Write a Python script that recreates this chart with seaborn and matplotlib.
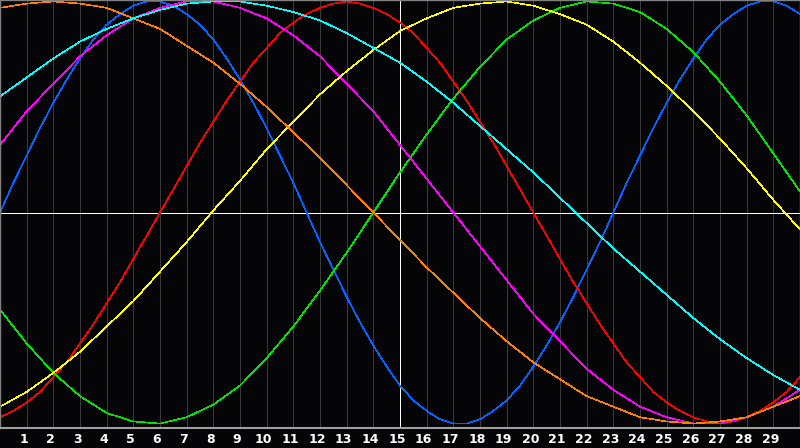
import pandas as pd
import matplotlib.pyplot as plt
import matplotlib.transforms as mtransforms
import seaborn as sns

# Days shown on the chart, one value per day (half days for the fast cycles)
days = list(range(31))
half_days = [i / 2 for i in range(61)]

physical = [0.00, 0.14, 0.27, 0.40, 0.52, 0.63, 0.73, 0.82, 0.89, 0.94, 0.98, 1.00,
            1.00, 0.98, 0.94, 0.89, 0.82, 0.73, 0.63, 0.52, 0.40, 0.27, 0.14, 0.00,
            -0.14, -0.27, -0.40, -0.52, -0.63, -0.73, -0.82, -0.89, -0.94, -0.98, -1.00,
            -1.00, -0.98, -0.94, -0.89, -0.82, -0.73, -0.63, -0.52, -0.40, -0.27, -0.14,
            0.00, 0.14, 0.27, 0.40, 0.52, 0.63, 0.73, 0.82, 0.89, 0.94, 0.98, 1.00,
            1.00, 0.98, 0.94]
emotional = [-0.97, -0.94, -0.90, -0.85, -0.78, -0.71, -0.62, -0.53, -0.43, -0.33, -0.22, -0.11,
             0.00, 0.11, 0.22, 0.33, 0.43, 0.53, 0.62, 0.71, 0.78, 0.85, 0.90, 0.94, 0.97, 0.99,
             1.00, 0.99, 0.97, 0.94, 0.90, 0.85, 0.78, 0.71, 0.62, 0.53, 0.43, 0.33, 0.22, 0.11,
             0.00, -0.11, -0.22, -0.33, -0.43, -0.53, -0.62, -0.71, -0.78, -0.85, -0.90, -0.94,
             -0.97, -0.99, -1.00, -0.99, -0.97, -0.94, -0.90, -0.85, -0.78]
intellectual = [-0.46, -0.62, -0.76, -0.87, -0.95, -0.99, -1.00, -0.97, -0.91, -0.82,
                -0.69, -0.54, -0.37, -0.19, 0.00, 0.19, 0.37, 0.54, 0.69, 0.82,
                0.91, 0.97, 1.00, 0.99, 0.95, 0.87, 0.76, 0.62, 0.46, 0.28, 0.10]
intuitive = [0.32, 0.48, 0.61, 0.74, 0.84, 0.92, 0.97, 1.00, 1.00, 0.97,
             0.92, 0.84, 0.74, 0.61, 0.48, 0.32, 0.16, 0.00, -0.16, -0.32,
             -0.48, -0.61, -0.74, -0.84, -0.92, -0.97, -1.00, -1.00, -0.97, -0.92, -0.84]
aesthetic = [-0.92, -0.85, -0.76, -0.66, -0.54, -0.42, -0.28, -0.14, 0.01, 0.15,
             0.30, 0.43, 0.56, 0.67, 0.77, 0.86, 0.92, 0.97, 0.99, 1.00,
             0.98, 0.94, 0.89, 0.81, 0.71, 0.60, 0.48, 0.35, 0.21, 0.06, -0.08]
awareness = [0.97, 0.99, 1.00, 0.99, 0.97, 0.92, 0.87, 0.79, 0.71, 0.61,
             0.50, 0.38, 0.26, 0.13, 0.00, -0.13, -0.26, -0.38, -0.50, -0.61,
             -0.71, -0.79, -0.87, -0.92, -0.97, -0.99, -1.00, -0.99, -0.97, -0.92, -0.87]
spiritual = [0.55, 0.64, 0.73, 0.81, 0.87, 0.92, 0.96, 0.99, 1.00, 1.00,
             0.98, 0.95, 0.91, 0.85, 0.78, 0.71, 0.62, 0.52, 0.41, 0.30,
             0.19, 0.07, -0.05, -0.17, -0.28, -0.39, -0.50, -0.60, -0.69, -0.77, -0.84]

cycles = ['Physical', 'Emotional', 'Intellectual', 'Intuitive', 'Aesthetic', 'Awareness', 'Spiritual']
series = [physical, emotional, intellectual, intuitive, aesthetic, awareness, spiritual]
x_values = [half_days, half_days, days, days, days, days, days]
colors = ['#0064ff', '#ff0000', '#00e600', '#ff00ff', '#ffff00', '#ff8000', '#00ffff']

tick_days = list(range(1, 30))
today = 15

df = pd.concat([pd.DataFrame({'Day': xs, 'Value': vals, 'Cycle': name})
                for name, xs, vals in zip(cycles, x_values, series)], ignore_index=True)

sns.set_theme(style='dark')
bg = '#050508'
fig = plt.figure(figsize=(8, 4.48), dpi=100, facecolor=bg)
ax = fig.add_axes([0, 20 / 448, 1, 428 / 448])
ax.set_facecolor(bg)

# day grid
for d in tick_days:
    ax.axvline(d, color='#3a3a3a', lw=0.6, zorder=0, antialiased=False)
ax.axhline(0, color='white', lw=0.7, zorder=1, antialiased=False)
ax.axvline(today, color='white', lw=0.7, zorder=1, antialiased=False)

sns.lineplot(data=df, x='Day', y='Value', hue='Cycle', hue_order=cycles,
             palette=dict(zip(cycles, colors)), estimator=None, legend=False,
             linewidth=0.45, antialiased=False, ax=ax, zorder=2)

ax.set_xlim(0, 30)
ax.set_ylim(-1.021, 1.007)
ax.set_xlabel('')
ax.set_ylabel('')
ax.set_yticks([])
ax.set_xticks(tick_days)
ax.set_xticklabels([str(d) for d in tick_days], color='white',
                   fontweight='bold', fontsize=9, family='DejaVu Sans')
ax.tick_params(axis='x', length=0, pad=3.5)
ax.grid(False)
shift = mtransforms.ScaledTranslation(-3 / 100, 0, fig.dpi_scale_trans)
for lbl in ax.get_xticklabels():
    lbl.set_transform(lbl.get_transform() + shift)

for side in ['left', 'top', 'right']:
    ax.spines[side].set_color('#808080')
    ax.spines[side].set_linewidth(1)
ax.spines['bottom'].set_color('#a0a0a0')
ax.spines['bottom'].set_linewidth(1.5)

fig.savefig('out.png', dpi=100, facecolor=bg)
